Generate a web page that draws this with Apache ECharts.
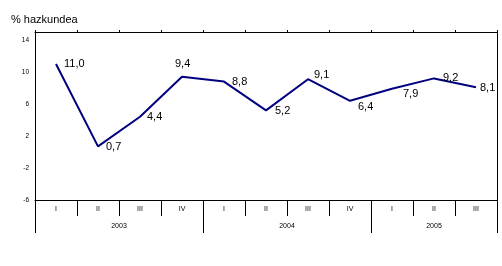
<!DOCTYPE html>
<html>
<head>
<meta charset="utf-8">
<script src="https://cdn.jsdelivr.net/npm/echarts@6/dist/echarts.min.js"></script>
<style>
html,body{margin:0;padding:0;background:#fff;}
#chart{width:502px;height:266px;}
</style>
</head>
<body>
<div id="chart"></div>
<script>
// ---- data ----
const quarters = ['I','II','III','IV','I','II','III','IV','I','II','III'];
const years = ['2003','2004','2005'];
const yearQuarterCounts = [4,4,3];
const growth = [11.0, 0.7, 4.4, 9.4, 8.8, 5.2, 9.1, 6.4, 7.9, 9.2, 8.1];
const yTickLabels = [-6,-2,2,6,10,14];
const titleText = '% hazkundea';

// ---- label placement relative to each point (style only) ----
const labelShift = [[8,0],[8,1],[7,0],[-7,-13],[8,0],[9,1],[6,-4],[8,6],[11,5],[9,0],[4,1]];

// year group boundaries and label centres derived from counts
const yearBounds = [0];
const yearCentres = [];
yearQuarterCounts.forEach((c,i)=>{
  const start = yearBounds[yearBounds.length-1];
  yearCentres.push(start + c/2);
  yearBounds.push(start + c);
});

const chart = echarts.init(document.getElementById('chart'), null, {renderer:'canvas'});
const font = 'Liberation Sans, Arial, sans-serif';
const black = '#000';

chart.setOption({
  animation:false,
  backgroundColor:'#fff',
  textStyle:{fontFamily:font},
  title:{
    text:titleText, left:6, top:9,
    textStyle:{fontSize:11, fontWeight:'normal', color:black, fontFamily:font}
  },
  grid:{left:35, right:5, top:32, bottom:66, containLabel:false},
  xAxis:[
    {
      type:'category', data:quarters, position:'bottom', boundaryGap:true,
      axisLine:{show:true, onZero:false, lineStyle:{color:black, width:1}},
      axisTick:{show:true, interval:0, length:16, lineStyle:{color:black, width:1}},
      axisLabel:{interval:0, fontSize:7, color:black, margin:6, fontFamily:font},
      splitLine:{show:false}
    },
    {
      type:'value', min:0, max:quarters.length, position:'bottom',
      axisLine:{show:false, onZero:false},
      axisTick:{show:true, customValues:yearBounds, length:33, lineStyle:{color:black, width:1}},
      axisLabel:{show:true, customValues:yearCentres, fontSize:7, color:black, margin:23, fontFamily:font,
        formatter:(v)=>{ const i = yearCentres.indexOf(v); return i>=0 ? years[i] : ''; }},
      splitLine:{show:false}
    },
    {
      type:'category', data:quarters, position:'top', boundaryGap:true,
      axisLine:{show:true, onZero:false, lineStyle:{color:black, width:1}},
      axisTick:{show:true, interval:0, length:2, lineStyle:{color:black, width:1}},
      axisLabel:{show:false},
      splitLine:{show:false}
    }
  ],
  yAxis:[
    {
      type:'value', min:-6, max:15, interval:1, position:'left',
      axisLine:{show:true, onZero:false, lineStyle:{color:black, width:1}},
      axisTick:{show:false},
      axisLabel:{customValues:yTickLabels, fontSize:6.5, color:black, margin:6, fontFamily:font},
      splitLine:{show:false}
    },
    {
      type:'value', min:-6, max:15, interval:1, position:'right',
      axisLine:{show:true, onZero:false, lineStyle:{color:black, width:1}},
      axisTick:{show:false}, axisLabel:{show:false}, splitLine:{show:false}
    }
  ],
  series:[{
    type:'line', xAxisIndex:0, yAxisIndex:0,
    data: growth.map((v,i)=>({
      value:v,
      label:{position:labelShift[i]}
    })),
    symbol:'circle', symbolSize:0, showSymbol:true,
    lineStyle:{color:'#000080', width:2},
    itemStyle:{color:'#000080'},
    label:{
      show:true, fontSize:11, color:black, fontFamily:font,
      align:'left', verticalAlign:'middle',
      formatter:(p)=>p.value.toFixed(1).replace('.',',')
    },
    labelLayout:{hideOverlap:false}
  }]
});
</script>
</body>
</html>
